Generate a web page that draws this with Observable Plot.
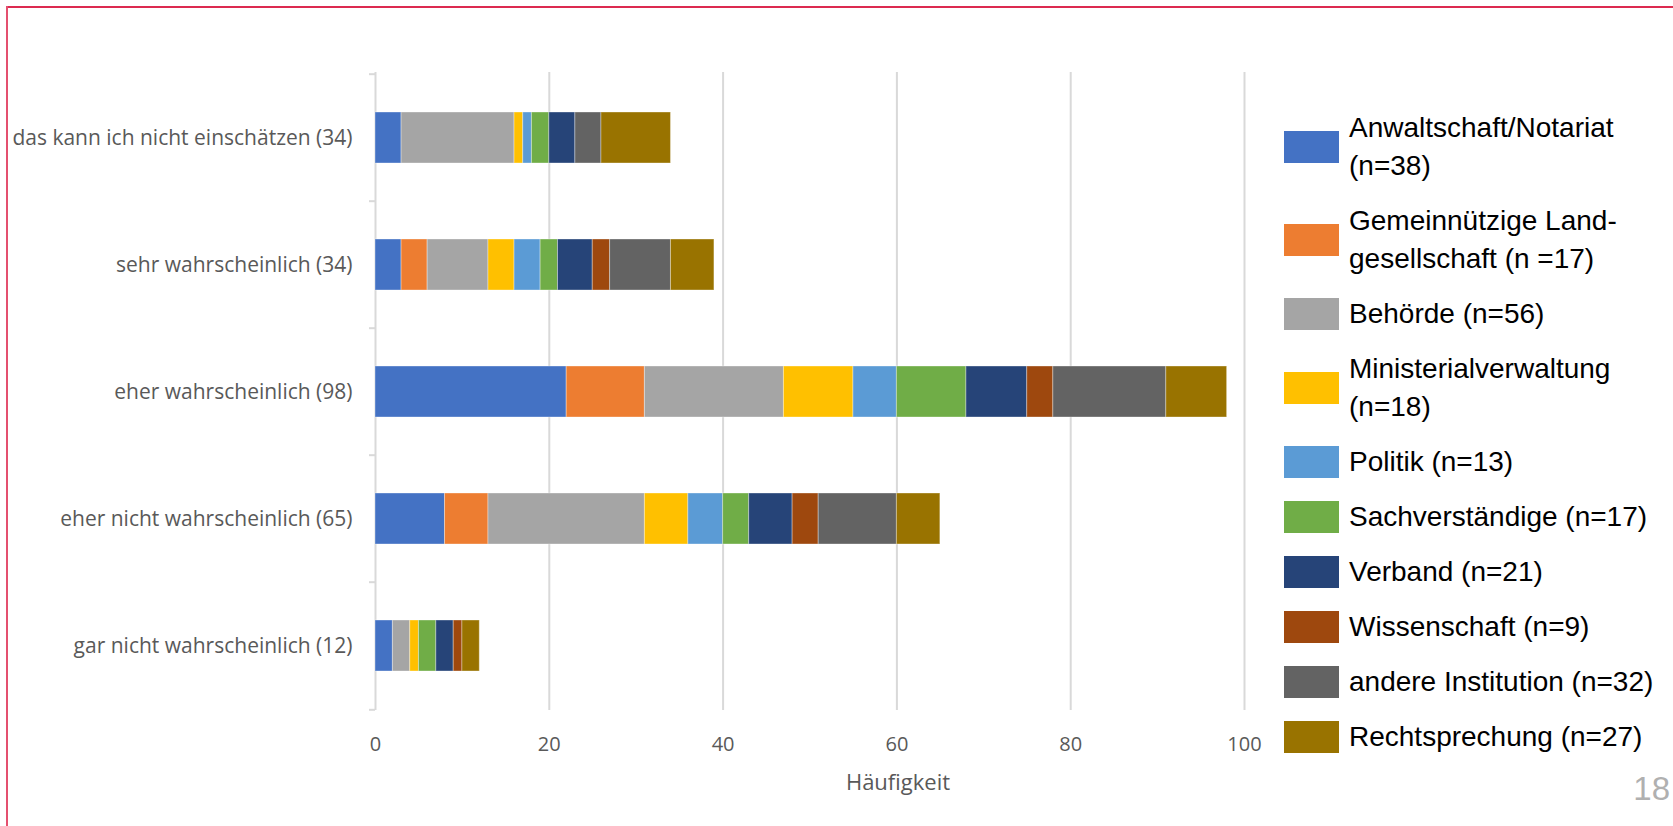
<!DOCTYPE html>
<html lang="de">
<head>
<meta charset="utf-8">
<script src="https://cdn.jsdelivr.net/npm/d3@7"></script>
<script src="https://cdn.jsdelivr.net/npm/@observablehq/plot@0.6"></script>
<style>
  html, body { margin: 0; padding: 0; background: #fff; }
  #page { position: relative; width: 1673px; height: 826px; overflow: hidden; }
  #chart { position: absolute; left: 0; top: 0; }
  .frame-top { position: absolute; left: 6px; right: 0; top: 6px; height: 2px; background: #dc2a50; }
  .frame-left { position: absolute; left: 6px; top: 6px; bottom: 0; width: 1.5px; background: #e4506f; }
  #legend { position: absolute; left: 1284px; top: 109px; font-family: "Liberation Sans", Arial, sans-serif; font-size: 28px; color: #000; }
  .item { display: flex; align-items: center; margin-bottom: 17px; }
  .swatch { width: 55px; height: 32px; margin-right: 10px; flex: none; }
  .label { line-height: 38px; white-space: nowrap; }
  #pageno { position: absolute; right: 3px; top: 770px; font-family: "Liberation Sans", Arial, sans-serif; font-size: 33px; color: #b0b0b0; }
</style>
</head>
<body>
<div id="page">
  <div id="chart"></div>
  <div class="frame-top"></div>
  <div class="frame-left"></div>
  <div id="legend"></div>
  <div id="pageno">18</div>
</div>
<script>
// Answer categories, top to bottom
const categories = [
  "das kann ich nicht einschätzen (34)",
  "sehr wahrscheinlich (34)",
  "eher wahrscheinlich (98)",
  "eher nicht wahrscheinlich (65)",
  "gar nicht wahrscheinlich (12)"
];

// Respondent groups (stack order) and their legend lines
const groups = [
  "Anwaltschaft/Notariat (n=38)",
  "Gemeinnützige Landgesellschaft (n =17)",
  "Behörde (n=56)",
  "Ministerialverwaltung (n=18)",
  "Politik (n=13)",
  "Sachverständige (n=17)",
  "Verband (n=21)",
  "Wissenschaft (n=9)",
  "andere Institution (n=32)",
  "Rechtsprechung (n=27)"
];
const legendLines = [
  ["Anwaltschaft/Notariat", "(n=38)"],
  ["Gemeinnützige Land-", "gesellschaft (n =17)"],
  ["Behörde (n=56)"],
  ["Ministerialverwaltung", "(n=18)"],
  ["Politik (n=13)"],
  ["Sachverständige (n=17)"],
  ["Verband (n=21)"],
  ["Wissenschaft (n=9)"],
  ["andere Institution (n=32)"],
  ["Rechtsprechung (n=27)"]
];
const colors = [
  "#4472C4", "#ED7D31", "#A5A5A5", "#FFC000", "#5B9BD5",
  "#70AD47", "#264478", "#9E480E", "#636363", "#997300"
];

// Counts per group, one value per category (same order as categories)
const anwaltschaft     = [3, 3, 22, 8, 2];
const landgesellschaft = [0, 3, 9, 5, 0];
const behoerde         = [13, 7, 16, 18, 2];
const ministerial      = [1, 3, 8, 5, 1];
const politik          = [1, 3, 5, 4, 0];
const sachverstaendige = [2, 2, 8, 3, 2];
const verband          = [3, 4, 7, 5, 2];
const wissenschaft     = [0, 2, 3, 3, 1];
const andere           = [3, 7, 13, 9, 0];
const rechtsprechung   = [8, 5, 7, 5, 2];

const xTicks = [0, 20, 40, 60, 80, 100];

const series = [anwaltschaft, landgesellschaft, behoerde, ministerial, politik,
  sachverstaendige, verband, wissenschaft, andere, rechtsprechung];

const rows = [];
series.forEach((vals, gi) => {
  vals.forEach((v, ci) => {
    if (v > 0) rows.push({group: groups[gi], category: categories[ci], count: v});
  });
});

const width = 1673, height = 826;
const marginLeft = 375, marginRight = 429, marginTop = 72, marginBottom = 116;
const step = (height - marginTop - marginBottom) / categories.length;

const chart = Plot.plot({
  width, height, marginLeft, marginRight, marginTop, marginBottom,
  style: {fontFamily: "'Open Sans', sans-serif", background: "transparent"},
  x: {domain: [0, 100]},
  y: {domain: categories, paddingInner: 0.6, paddingOuter: 0.3},
  color: {domain: groups, range: colors},
  marks: [
    Plot.gridX(xTicks.filter(d => d > 0), {stroke: "#d9d9d9", strokeOpacity: 1, strokeWidth: 2}),
    Plot.ruleX([0], {stroke: "#d9d9d9", strokeWidth: 2}),
    // small tick marks on the category axis at band boundaries
    Plot.ruleY(categories, {y: d => d, x1: 0, x2: 0, insetLeft: -6, dy: -step / 2, stroke: "#d9d9d9", strokeWidth: 2}),
    Plot.ruleY(categories.slice(-1), {y: d => d, x1: 0, x2: 0, insetLeft: -6, dy: step / 2, stroke: "#d9d9d9", strokeWidth: 2}),
    Plot.barX(rows, Plot.stackX({
      x: "count", y: "category", fill: "group",
      stroke: "#ffffff", strokeOpacity: 0.35, strokeWidth: 1
    })),
    Plot.axisX({ticks: xTicks, tickSize: 0, tickPadding: 26, fontSize: 20, color: "#595959", label: null}),
    Plot.axisY({tickSize: 0, tickPadding: 23, fontSize: 21, color: "#595959", label: null}),
    Plot.text(["Häufigkeit"], {frameAnchor: "bottom", dx: 88, dy: 72, fontSize: 22, fill: "#595959", textAnchor: "middle", lineAnchor: "middle"})
  ]
});
document.getElementById("chart").appendChild(chart);

// Legend
const legend = document.getElementById("legend");
legendLines.forEach((lines, i) => {
  const item = document.createElement("div");
  item.className = "item";
  const sw = document.createElement("div");
  sw.className = "swatch";
  sw.style.background = colors[i];
  const lab = document.createElement("div");
  lab.className = "label";
  lines.forEach((t, j) => {
    if (j) lab.appendChild(document.createElement("br"));
    lab.appendChild(document.createTextNode(t));
  });
  item.appendChild(sw);
  item.appendChild(lab);
  legend.appendChild(item);
});
</script>
</body>
</html>
